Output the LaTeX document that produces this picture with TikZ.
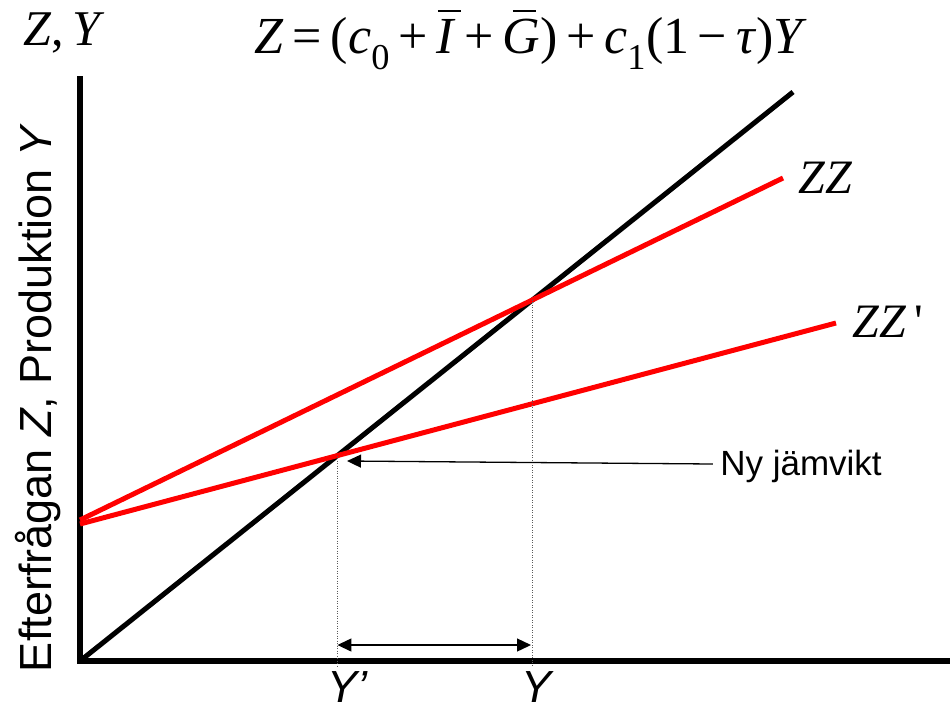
\documentclass[tikz,border=0pt]{standalone}
\usepackage{fontspec}
\setmainfont{Liberation Sans}
\newfontfamily\tms{Liberation Serif}
\usetikzlibrary{arrows.meta,intersections}
\newcommand\obar[1]{\setbox0\hbox{#1}\rlap{\hbox to \wd0{\hss\kern0.12em\raisebox{0.8em}{\rule{0.45em}{0.045em}}\hss}}\box0}
\begin{document}
\begin{tikzpicture}[x=1pt,y=-1pt,
  axisline/.style={line width=5.5pt},
  blackline/.style={line width=5pt},
  redline/.style={line width=5pt,red},
  guide/.style={line width=1pt,gray!70!black,dash pattern=on 1pt off 1.5pt},
  thinarrow/.style={line width=1.3pt,-{Triangle[length=14pt,width=13pt]}},
  bothways/.style={line width=1.3pt,{Triangle[length=14pt,width=13pt]}-{Triangle[length=14pt,width=13pt]}},
  sanslabel/.style={font=\fontsize{45}{48}\selectfont,inner sep=0pt,anchor=base},
  seriflabel/.style={font=\tms\fontsize{48}{52}\selectfont\itshape}]
\useasboundingbox (0,0) rectangle (950,713);
% axes
\coordinate (O) at (80,661);
\coordinate (ytop) at (80,76);
\coordinate (xend) at (950,661);
\draw[axisline] (ytop) -- (O) -- (xend);
% 45 degree line
\coordinate (bend) at (793,92);
\draw[blackline,name path=bl] (O) -- (bend);
% demand lines
\coordinate (zzs) at (80,520);
\coordinate (zze) at (783,178);
\coordinate (zzps) at (80,524);
\coordinate (zzpe) at (836,323);
\draw[redline,name path=zz] (zzs) -- (zze);
\draw[redline,name path=zzp] (zzps) -- (zzpe);
\path[name intersections={of=bl and zz,by=E1}];
\path[name intersections={of=bl and zzp,by=E2}];
% guides
\coordinate (g1) at (E1 |- 0,667);
\coordinate (g2) at (E2 |- 0,667);
\draw[guide] (E1) -- (g1);
\draw[guide] (E2) -- (g2);
% labels
\node[seriflabel] (zzlab) at (825,178) {ZZ};
\node[seriflabel] (zzplab) at (888,322) {ZZ\,\upshape'};
\node[font=\tms\fontsize{50}{54}\selectfont\itshape] (zylab) at (62,33) {Z\upshape,\,\itshape Y};
\node[font=\tms\fontsize{52}{56}\selectfont] (formula) at (531,40)
  {\textit{Z}\,=\,(\textit{c}\textsubscript{0}\,+\,\obar{\textit{I}}\,+\,\obar{\textit{G}})\,+\,\textit{c}\textsubscript{1}(1\,−\,\textit{τ})\textit{Y}};
\node[font=\fontsize{45}{50}\selectfont,rotate=90] (ylab) at (38,398) {Efterfrågan \textit{Z}, Produktion \textit{Y}};
\node[font=\fontsize{35}{38}\selectfont] (ny) at (801,466) {Ny jämvikt};
\node[sanslabel] (yp) at (348,702) {\textit{Y’}};
\node[sanslabel] (yy) at (538,702) {\textit{Y}};
% arrows
\coordinate (nystart) at ([xshift=-4pt]ny.west |- 0,464);
\coordinate (nyend) at (347,461);
\draw[thinarrow] (nystart) -- (nyend);
\coordinate (da1) at (E2 |- 0,645);
\coordinate (da2) at (531,645);
\draw[bothways] (da1) -- (da2);
\end{tikzpicture}
\end{document}
